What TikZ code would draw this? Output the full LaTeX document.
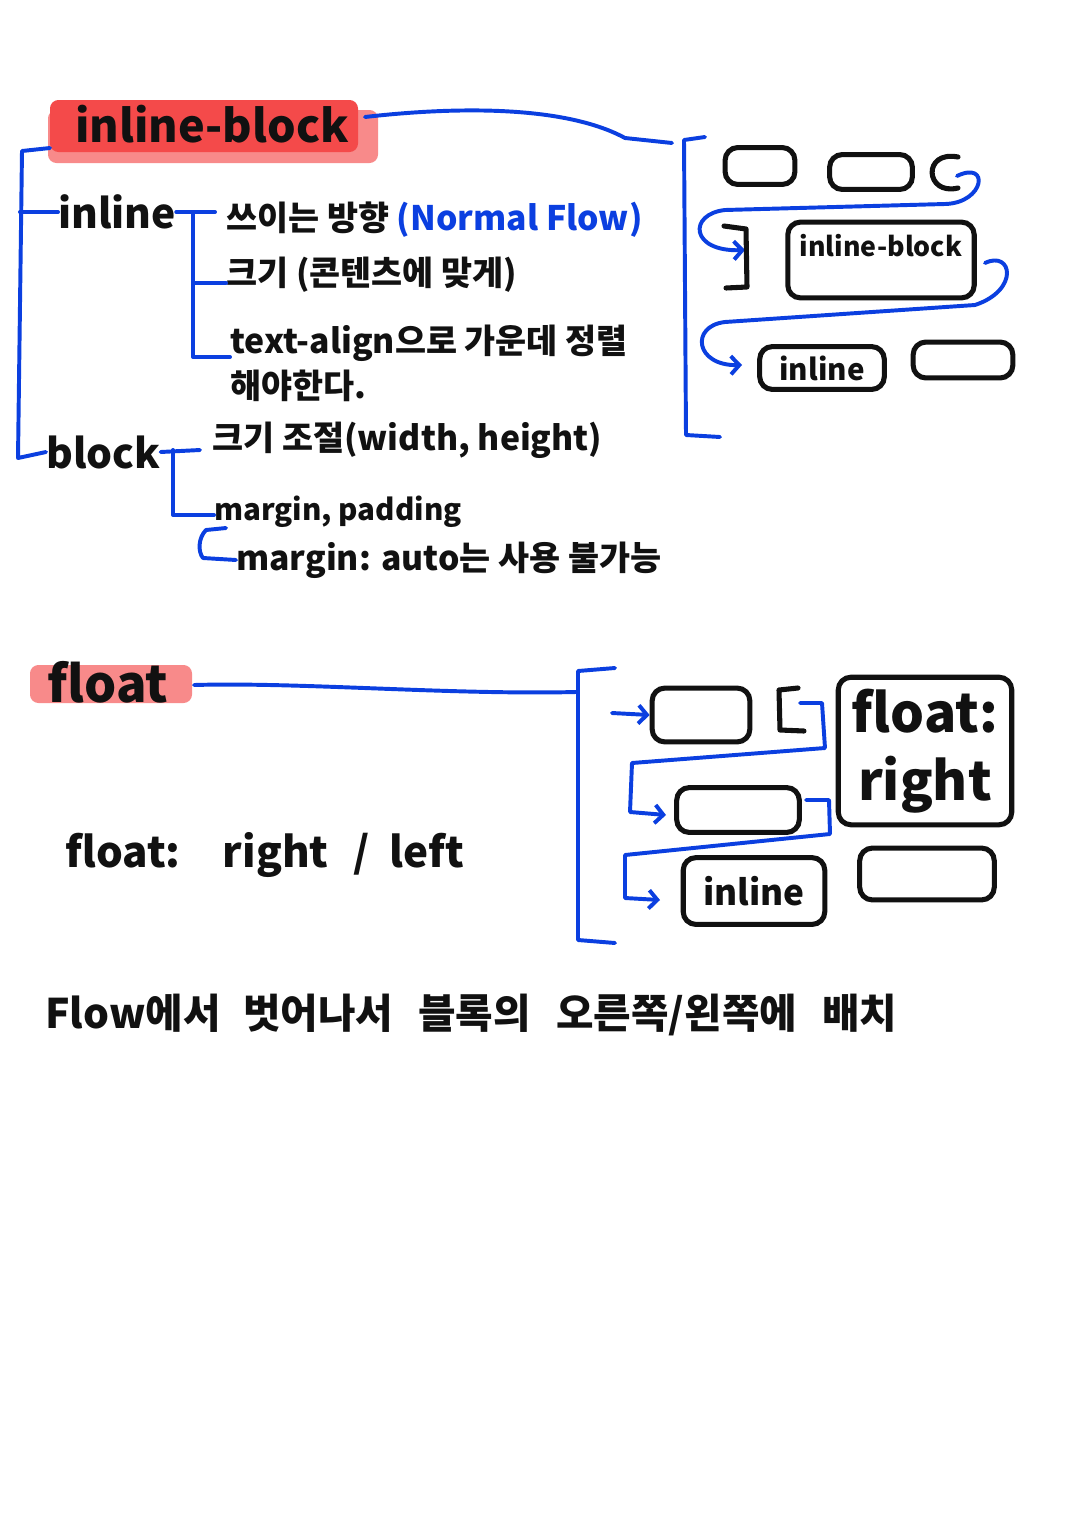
\documentclass[tikz,border=0pt]{standalone}
\usepackage{fontspec}
\newfontfamily\kr{Noto Sans CJK KR}
\usetikzlibrary{positioning,arrows.meta}
\definecolor{ink}{HTML}{111111}
\definecolor{penblue}{HTML}{0B3FE0}
\definecolor{hlred}{HTML}{F44A4A}
\definecolor{hlpink}{HTML}{F88A8A}
\newcommand\hwsize[1]{\kr\bfseries\fontsize{#1}{#1}\selectfont}

\begin{document}
\begin{tikzpicture}[
  x=0.025cm,y=-0.025cm,
  hw/.style={font=\hwsize{#1},text=ink,inner sep=0pt,anchor=west},
  hw/.default=24,
  pen/.style={draw=penblue,line width=2.8pt,line cap=round,line join=round},
  inkline/.style={draw=ink,line width=3.6pt,line cap=round,line join=round},
  box/.style 2 args={draw=ink,line width=3.6pt,rounded corners=9pt,inner sep=0pt,
    minimum width=#1*0.709pt,minimum height=#2*0.709pt},
  flow/.style={pen,-{Straight Barb[length=6pt,width=13pt,line width=2.8pt]}}]
\useasboundingbox[fill=white] (0,0) rectangle (1080,1527);
% ---- inline-block: title and notes
\fill[hlpink,rounded corners=6pt] (48,110) rectangle (378,163);
\fill[hlred,rounded corners=6pt] (50,100) rectangle (358,152);
\node[hw=32,anchor=center] (ttl) at (212,124) {inline-block};
\node[hw=29] (inl) at (58,212) {inline};
\node[hw] (i1) at (226,220) {쓰이는 방향 \textcolor{penblue}{(Normal Flow)}};
\node[hw] (i2) at (226,275) {크기 (콘텐츠에 맞게)};
\node[hw] (i3) at (230,343) {text-align으로 가운데 정렬};
\node[hw,below=6pt of i3.south west,anchor=north west] (i3b) {해야한다.};
\node[hw=29] (blk) at (46,452) {block};
\node[hw] (b1) at (212,440) {크기 조절(width, height)};
\node[hw=21] (b2) at (214,512) {margin, padding};
\node[hw] (b3) at (236,560) {margin: auto는 사용 불가능};
\draw[pen] (50,148) -- (22,151) -- (18,458) -- (blk.west);
\draw[pen] (20,212) -- (inl.west);
\draw[pen] (inl.east) -- (215,212);
\draw[pen] (193,212) -- (193,357) -- (i3.west |- 0,357);
\draw[pen] (193,283) -- (i2.west |- 0,283);
\draw[pen] (blk.east) -- (200,450);
\draw[pen] (173,450) -- (173,515) -- (b2.west |- 0,515);
\draw[pen] (226,528) -- (206,530) .. controls (198,538) and (198,552) .. (203,558) -- (b3.west);
\draw[pen] (365,117) .. controls (470,105) and (570,108) .. (625,138) -- (672,143);
\draw[pen] (705,137) -- (684,140) -- (686,435) -- (720,437);
% ---- inline-block: sketch
\node[box={70}{37}] (ra1) at (760,166) {};
\node[box={83}{35}] (ra2) at (871,172) {};
\draw[inkline] (958,157) .. controls (922,150) and (925,196) .. (958,188);
\draw[flow] (957,176) .. controls (990,160) and (985,203) .. (945,204) -- (725,210)
  .. controls (688,214) and (690,252) .. (745,250);
\draw[inkline] (724,226) -- (746,229) -- (747,287) -- (726,288);
\node[box={187}{76}] (rib) at (881,260) {};
\node[hw=19,anchor=center,yshift=10pt] (ribt) at (rib.center) {inline-block};
\draw[flow] (985,263) .. controls (1012,250) and (1020,290) .. (975,305) -- (725,322)
  .. controls (690,326) and (695,366) .. (742,365);
\node[box={125}{43}] (rin) at (822,368) {};
\node[hw=21,anchor=center] (rint) at (rin.center) {inline};
\node[box={100}{36}] (ra4) at (963,360) {};
% ---- float: title and notes
\fill[hlpink,rounded corners=6pt] (30,665) rectangle (192,703);
\node[hw=36,anchor=center] (fttl) at (108,682) {float};
\node[hw=30] (fnote) at (65,855) {float:\hspace{30pt}right\hspace{18pt}/\hspace{14pt}left};
\node[hw=29] (frule) at (45,1015) {Flow에서\hspace{16pt}벗어나서\hspace{18pt}블록의\hspace{18pt}오른쪽/왼쪽에\hspace{18pt}배치};
\draw[pen] (194,685) .. controls (300,682) and (450,695) .. (576,692);
\draw[pen] (615,668) -- (578,671) -- (578,940) -- (615,943);
% ---- float: sketch
\node[box={98}{54}] (fa1) at (701,715) {};
\draw[flow] (612,713) -- (fa1.west);
\draw[inkline] (798,688) -- (779,690) -- (780,730) -- (804,731);
\draw[flow] (800,703) -- (822,703) -- (825,748) -- (632,763) -- (630,812) -- (666,815);
\node[box={123}{45}] (fa2) at (738,810) {};
\draw[flow] (806,800) -- (829,800) -- (830,834) -- (625,855) -- (625,898) -- (660,900);
\node[box={142}{67}] (fin) at (754,891) {};
\node[hw=25,anchor=center] (fint) at (fin.center) {inline};
\node[box={135}{52}] (fa3) at (927,874) {};
\node[box={174}{148},font=\kr\bfseries\fontsize{38}{48}\selectfont,align=center,text=ink] (fright) at (925,751) {float:\\right};
\end{tikzpicture}
\end{document}
